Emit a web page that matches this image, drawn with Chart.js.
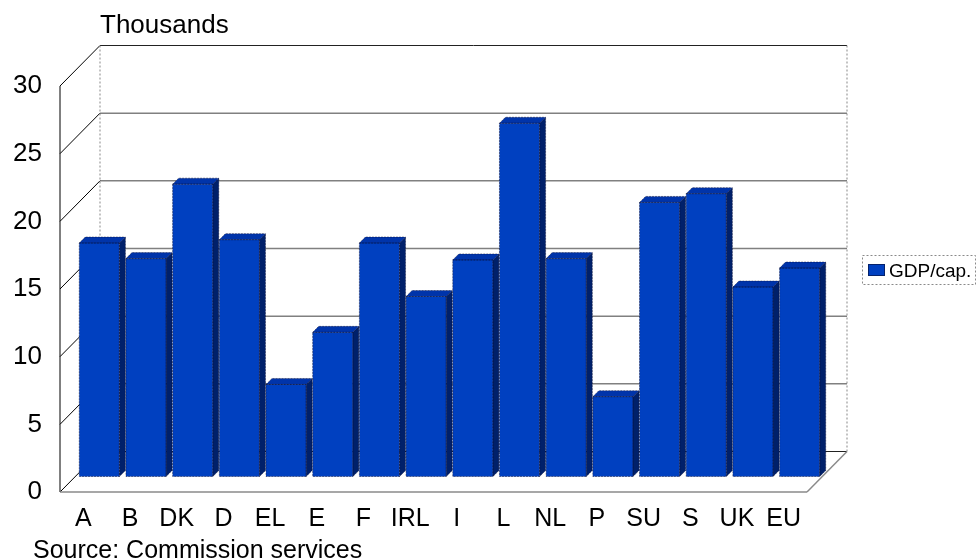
<!DOCTYPE html>
<html>
<head>
<meta charset="utf-8">
<script src="https://cdn.jsdelivr.net/npm/chart.js@4.4.1/dist/chart.umd.min.js"></script>
<style>
  html, body { margin: 0; padding: 0; background: #fff; }
  #wrap { position: relative; width: 976px; height: 560px; }
</style>
</head>
<body>
<div id="wrap"><canvas id="c"></canvas></div>
<script>
// GDP per capita by member state, in thousands
const countries = ['A', 'B', 'DK', 'D', 'EL', 'E', 'F', 'IRL', 'I', 'L', 'NL', 'P', 'SU', 'S', 'UK', 'EU'];
const gdpPerCap = [17.25, 16.1, 21.6, 17.5, 6.8, 10.65, 17.25, 13.3, 16.0, 26.1, 16.1, 5.9, 20.25, 20.9, 14.0, 15.4];
const valueTicks = [0, 5, 10, 15, 20, 25, 30];
const seriesName = 'GDP/cap.';
const unitTitle = 'Thousands';
const sourceNote = 'Source: Commission services';

const FONT = "'Liberation Sans', Arial, Helvetica, sans-serif";
const FRONT = '#0040C0';
const SIDE = '#00206A';
const TOP = '#0034AA';
const EDGE = 'rgba(10,15,50,0.6)';

// oblique projection of the plot box
const DEPTH = { x: 40, y: 40.5 };      // front plane -> back wall
const BAR_SHIFT = { x: 16, y: 15.5 };  // front plane -> bar front faces
const BAR_DEPTH = 6;

function line(ctx, x1, y1, x2, y2) {
  ctx.beginPath(); ctx.moveTo(x1, y1); ctx.lineTo(x2, y2); ctx.stroke();
}
function poly(ctx, pts, fill) {
  ctx.beginPath();
  ctx.moveTo(pts[0][0], pts[0][1]);
  for (let i = 1; i < pts.length; i++) ctx.lineTo(pts[i][0], pts[i][1]);
  ctx.closePath();
  ctx.fillStyle = fill; ctx.fill();
  ctx.stroke();
}

const box3d = {
  id: 'box3d',
  beforeDatasetsDraw(chart) {
    const { ctx, chartArea: a, scales: { y } } = chart;
    const L = a.left, R = a.right, B = y.getPixelForValue(0), T = y.getPixelForValue(30);
    ctx.save();
    // back wall gridlines
    valueTicks.forEach(v => {
      const py = y.getPixelForValue(v) - DEPTH.y;
      ctx.strokeStyle = (v === 0 || v === 30) ? '#222' : '#808080';
      ctx.lineWidth = (v === 0 || v === 30) ? 1 : 1.5;
      line(ctx, L + DEPTH.x, py, R + DEPTH.x, py);
    });
    // side wall gridlines
    ctx.strokeStyle = '#000'; ctx.lineWidth = 1;
    valueTicks.forEach(v => {
      const py = y.getPixelForValue(v);
      line(ctx, L, py, L + DEPTH.x, py - DEPTH.y);
    });
    line(ctx, L, T, L, B);
    // back vertical edges
    ctx.setLineDash([2, 2]);
    ctx.strokeStyle = '#888';
    line(ctx, L + DEPTH.x, T - DEPTH.y, L + DEPTH.x, B - DEPTH.y);
    line(ctx, R + DEPTH.x, T - DEPTH.y, R + DEPTH.x, B - DEPTH.y);
    ctx.setLineDash([]);
    // floor front and right edges
    ctx.strokeStyle = '#8a8a8a'; ctx.lineWidth = 1.5;
    line(ctx, L, B, R, B);
    line(ctx, R, B, R + DEPTH.x, B - DEPTH.y);
    ctx.restore();
  },
  beforeDatasetDraw(chart) {
    chart.ctx.save();
    chart.ctx.translate(BAR_SHIFT.x, -BAR_SHIFT.y);
  },
  afterDatasetDraw(chart, args) {
    const ctx = chart.ctx;
    const d = BAR_DEPTH;
    ctx.strokeStyle = EDGE; ctx.lineWidth = 0.8;
    ctx.setLineDash([2, 1]);
    args.meta.data.forEach(bar => {
      const { x, y, base, width } = bar.getProps(['x', 'y', 'base', 'width'], true);
      const l = x - width / 2, r = x + width / 2;
      poly(ctx, [[r, y], [r + d, y - d], [r + d, base - d], [r, base]], SIDE);
      poly(ctx, [[l, y], [l + d, y - d], [r + d, y - d], [r, y]], TOP);
      ctx.strokeRect(l, y, width, base - y);
    });
    ctx.restore();
  },
  afterDraw(chart) {
    const ctx = chart.ctx;
    ctx.save();
    ctx.fillStyle = '#000';
    ctx.textBaseline = 'alphabetic';
    ctx.textAlign = 'left';
    ctx.font = '26px ' + FONT;
    ctx.fillText(unitTitle, 100, 33);
    ctx.font = '25px ' + FONT;
    ctx.fillText(sourceNote, 33, 558);
    // legend
    ctx.strokeStyle = '#8a8a8a'; ctx.lineWidth = 1;
    ctx.setLineDash([2, 2]);
    ctx.strokeRect(862.5, 255.5, 113, 29);
    ctx.setLineDash([]);
    ctx.fillStyle = FRONT;
    ctx.fillRect(868, 264, 17, 12);
    ctx.strokeStyle = EDGE;
    ctx.strokeRect(868.5, 264.5, 16, 11);
    ctx.fillStyle = '#000';
    ctx.font = '19px ' + FONT;
    ctx.fillText(chart.data.datasets[0].label, 889, 277);
    ctx.restore();
  }
};

new Chart(document.getElementById('c'), {
  type: 'bar',
  data: {
    labels: countries,
    datasets: [{
      label: seriesName,
      data: gdpPerCap,
      backgroundColor: FRONT,
      borderWidth: 0,
      categoryPercentage: 1,
      barPercentage: 0.86,
      clip: false
    }]
  },
  options: {
    responsive: true,
    maintainAspectRatio: false,
    animation: false,
    events: [],
    layout: { padding: { left: 0, right: 169, top: 86, bottom: 0 } },
    plugins: { legend: { display: false }, tooltip: { enabled: false } },
    scales: {
      x: {
        grid: { display: false, drawTicks: false },
        border: { display: false },
        ticks: { color: '#000', font: { family: FONT, size: 25 }, padding: 12, maxRotation: 0, autoSkip: false },
        afterFit(s) { s.height = 68; }
      },
      y: {
        min: 0, max: 30,
        grid: { display: false, drawTicks: false },
        border: { display: false },
        ticks: { color: '#000', font: { family: FONT, size: 26 }, padding: 18 },
        afterBuildTicks(s) { s.ticks = valueTicks.map(v => ({ value: v })); },
        afterFit(s) { s.width = 60; }
      }
    }
  },
  plugins: [box3d]
});
</script>
</body>
</html>
